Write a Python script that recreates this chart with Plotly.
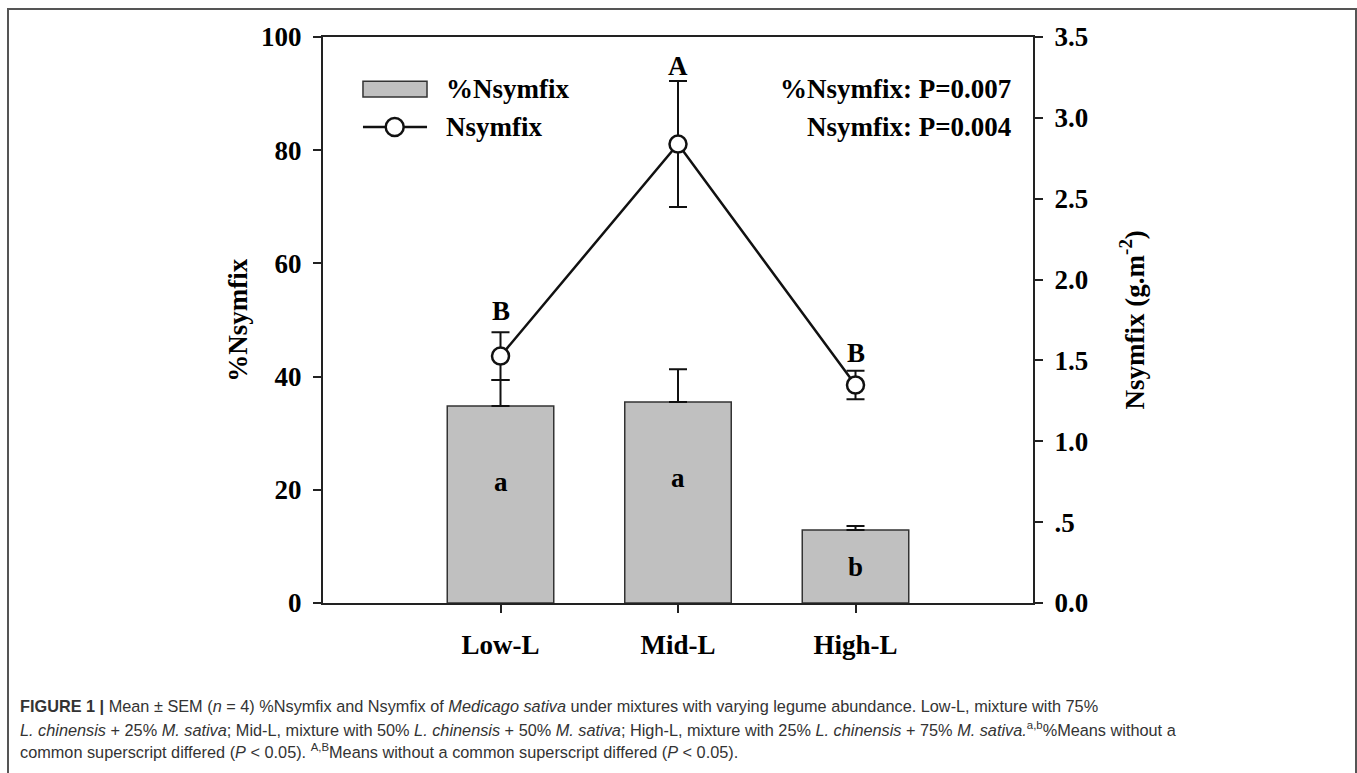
import plotly.graph_objects as go

categories = ["Low-L", "Mid-L", "High-L"]
pct_nsymfix = [34.8, 35.5, 12.9]
pct_nsymfix_sem = [4.6, 5.8, 0.7]
pct_letters = ["a", "a", "b"]
pct_letter_y = [21.4, 22.0, 6.4]

nsymfix = [1.527, 2.838, 1.348]
nsymfix_sem = [0.148, 0.39, 0.088]
nsym_letters = ["B", "A", "B"]

y2_tickvals = [0, 0.5, 1.0, 1.5, 2.0, 2.5, 3.0, 3.5]
y2_ticktext = ["0.0", ".5", "1.0", "1.5", "2.0", "2.5", "3.0", "3.5"]

caption_lines = [
    "<b>FIGURE 1 |</b> Mean ± SEM (<i>n</i> = 4) %Nsymfix and Nsymfix of <i>Medicago sativa</i> "
    "under mixtures with varying legume abundance. Low-L, mixture with 75%",
    "<i>L. chinensis</i> + 25% <i>M. sativa</i>; Mid-L, mixture with 50% <i>L. chinensis</i> + 50% "
    "<i>M. sativa</i>; High-L, mixture with 25% <i>L. chinensis</i> + 75% <i>M. sativa.</i>"
    "<sup>a,b</sup>%Means without a",
    "common superscript differed (<i>P</i> &lt; 0.05). <sup>A,B</sup>Means without a common "
    "superscript differed (<i>P</i> &lt; 0.05).",
]

SERIF = "Liberation Serif, Times New Roman, serif"
SANS = "Liberation Sans, Arial, Helvetica, sans-serif"
AX = "#222222"
FS = 27

x = list(range(len(categories)))

fig = go.Figure()
fig.add_trace(go.Bar(
    x=x, y=pct_nsymfix, width=0.6,
    marker=dict(color="#c0c0c0", line=dict(color="#333333", width=1.5)),
    error_y=dict(type="data", symmetric=False, array=pct_nsymfix_sem,
                 arrayminus=[0] * 3, color="#111111", thickness=2, width=9),
    showlegend=False, yaxis="y",
))
fig.add_trace(go.Scatter(
    x=x, y=nsymfix, mode="lines+markers",
    line=dict(color="#111111", width=2.5),
    marker=dict(symbol="circle", size=17, color="white",
                line=dict(color="#111111", width=2.5)),
    error_y=dict(type="data", array=nsymfix_sem, color="#111111",
                 thickness=2, width=9),
    showlegend=False, yaxis="y2",
))

annotations = []
for i in x:
    annotations.append(dict(x=i, y=pct_letter_y[i], xref="x", yref="y",
                            text="<b>%s</b>" % pct_letters[i], showarrow=False,
                            font=dict(family=SERIF, size=FS, color="black")))
nsym_shift = [4, -2, 1]
for i in x:
    annotations.append(dict(x=i, y=nsymfix[i] + nsymfix_sem[i], xref="x", yref="y2",
                            text="<b>%s</b>" % nsym_letters[i], showarrow=False,
                            yanchor="bottom", yshift=nsym_shift[i],
                            font=dict(family=SERIF, size=FS, color="black")))

# legend texts
annotations.append(dict(x=0.170, y=0.908, xref="paper", yref="paper", text="<b>%Nsymfix</b>",
                        showarrow=False, xanchor="left", yanchor="middle",
                        font=dict(family=SERIF, size=FS, color="black")))
annotations.append(dict(x=0.170, y=0.841, xref="paper", yref="paper", text="<b>Nsymfix</b>",
                        showarrow=False, xanchor="left", yanchor="middle",
                        font=dict(family=SERIF, size=FS, color="black")))
# P values
annotations.append(dict(x=0.972, y=0.908, xref="paper", yref="paper",
                        text="<b>%Nsymfix: P=0.007</b>", showarrow=False,
                        xanchor="right", yanchor="middle",
                        font=dict(family=SERIF, size=FS, color="black")))
annotations.append(dict(x=0.972, y=0.841, xref="paper", yref="paper",
                        text="<b>Nsymfix: P=0.004</b>", showarrow=False,
                        xanchor="right", yanchor="middle",
                        font=dict(family=SERIF, size=FS, color="black")))
# axis titles
annotations.append(dict(x=-0.12, y=0.5, xref="paper", yref="paper",
                        text="<b>%Nsymfix</b>", showarrow=False, textangle=-90,
                        xanchor="center", yanchor="middle",
                        font=dict(family=SERIF, size=FS, color="black")))
annotations.append(dict(x=1.14, y=0.5, xref="paper", yref="paper",
                        text="<b>Nsymfix (g.m<sup>-2</sup>)</b>", showarrow=False, textangle=-90,
                        xanchor="center", yanchor="middle",
                        font=dict(family=SERIF, size=FS, color="black")))

caption_y = [706, 729, 751]
for line, yc in zip(caption_lines, caption_y):
    annotations.append(dict(x=(18 - 323) / 710, y=(603 - yc) / 566, xref="paper", yref="paper",
                            text=line, showarrow=False, xanchor="left", yanchor="middle",
                            align="left",
                            font=dict(family=SANS, size=16.3, color="#333333")))

shapes = [
    # figure frame
    dict(type="rect", xref="paper", yref="paper",
         x0=(8 - 323) / 710, x1=(1356 - 323) / 710,
         y0=(603 - 800) / 566, y1=(603 - 9) / 566,
         line=dict(color="#555555", width=2), fillcolor="rgba(0,0,0,0)", layer="below"),
    # legend swatch
    dict(type="rect", xref="paper", yref="paper",
         x0=0.0563, x1=0.1465, y0=0.894, y1=0.922,
         line=dict(color="#333333", width=1.5), fillcolor="#c0c0c0"),
    # legend line
    dict(type="line", xref="paper", yref="paper",
         x0=0.0563, x1=0.1465, y0=0.841, y1=0.841,
         line=dict(color="#111111", width=2.5)),
    dict(type="circle", xref="paper", yref="paper", xsizemode="pixel", ysizemode="pixel",
         xanchor=0.101, yanchor=0.841, x0=-9, x1=9, y0=-9, y1=9,
         line=dict(color="#111111", width=2.5), fillcolor="white"),
]

fig.update_layout(
    width=1357, height=773,
    margin=dict(l=323, r=324, t=37, b=170),
    paper_bgcolor="white", plot_bgcolor="white",
    showlegend=False,
    annotations=annotations, shapes=shapes,
    xaxis=dict(range=[-1, 3], tickvals=x, ticktext=categories,
               showline=True, linecolor=AX, linewidth=2, mirror=True,
               ticks="outside", ticklen=8, tickwidth=1.5, tickcolor=AX,
               showgrid=False, zeroline=False, ticklabelstandoff=9,
               tickfont=dict(family=SERIF, size=FS, color="black", weight="bold")),
    yaxis=dict(range=[0, 100], dtick=20, showline=True, linecolor=AX, linewidth=2,
               ticks="outside", ticklen=8, tickwidth=1.5, tickcolor=AX,
               showgrid=False, zeroline=False, ticklabelstandoff=6,
               tickfont=dict(family=SERIF, size=FS, color="black", weight="bold")),
    yaxis2=dict(range=[0, 3.5], overlaying="y", side="right",
                tickvals=y2_tickvals, ticktext=y2_ticktext,
                showline=True, linecolor=AX, linewidth=2,
                ticks="outside", ticklen=8, tickwidth=1.5, tickcolor=AX,
                showgrid=False, zeroline=False, ticklabelstandoff=6,
                tickfont=dict(family=SERIF, size=FS, color="black", weight="bold")),
)

fig.write_html("out.html")
